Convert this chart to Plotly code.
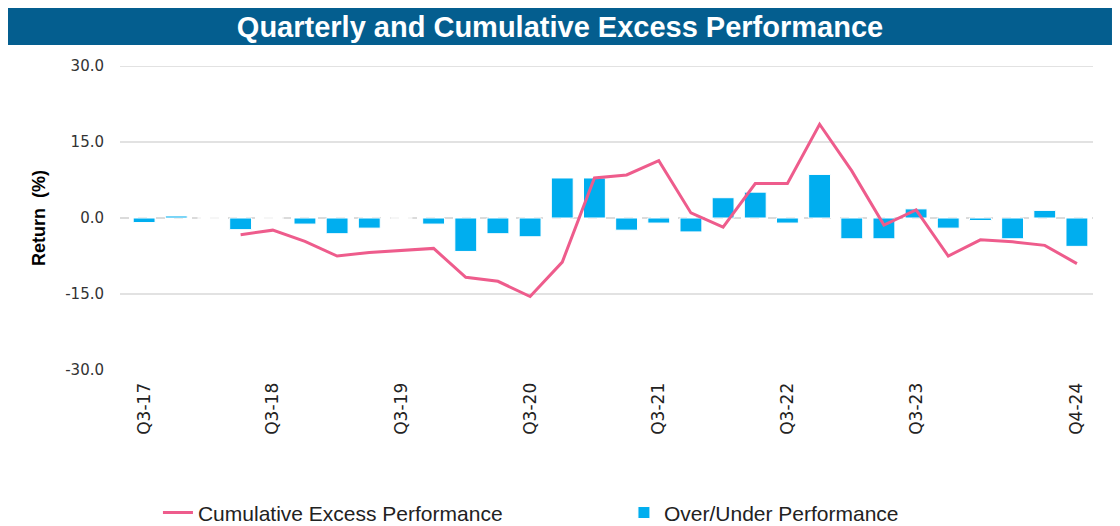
import plotly.graph_objects as go

quarters = [
    "Q3-17", "Q4-17", "Q1-18", "Q2-18", "Q3-18", "Q4-18", "Q1-19", "Q2-19",
    "Q3-19", "Q4-19", "Q1-20", "Q2-20", "Q3-20", "Q4-20", "Q1-21", "Q2-21",
    "Q3-21", "Q4-21", "Q1-22", "Q2-22", "Q3-22", "Q4-22", "Q1-23", "Q2-23",
    "Q3-23", "Q4-23", "Q1-24", "Q2-24", "Q3-24", "Q4-24",
]
over_under = [
    -0.9, 0.4, 0.0, -2.3, 0.0, -1.2, -3.1, -2.0, 0.0, -1.2,
    -6.6, -3.1, -3.7, 7.9, 7.9, -2.4, -1.0, -2.75, 4.0, 5.1,
    -1.0, 8.6, -4.1, -4.1, 1.8, -2.0, -0.5, -4.1, 1.5, -5.6,
]
cumulative = [
    None, None, None, -3.3, -2.4, -4.6, -7.5, -6.8, -6.4, -6.0,
    -11.7, -12.5, -15.5, -8.7, 7.9, 8.5, 11.3, 1.0, -1.8, 6.8,
    6.8, 18.5, 9.3, -1.4, 1.6, -7.5, -4.3, -4.7, -5.4, -9.0,
]
tick_labels = ["Q3-17", "Q3-18", "Q3-19", "Q3-20", "Q3-21", "Q3-22", "Q3-23", "Q4-24"]
y_ticks = [-30, -15, 0, 15, 30]
grid_lines = [-15, 15, 30]

fig = go.Figure()

fig.add_trace(go.Scatter(
    x=quarters, y=cumulative,
    mode="lines",
    line=dict(color="#EE5C8C", width=3),
    name="Cumulative Excess Performance",
))
fig.add_trace(go.Bar(
    x=quarters, y=over_under,
    marker=dict(color="#00AEEF", line=dict(color="white", width=1)),
    name="Over/Under Performance",
))

# gridlines and dashed zero line
shapes = []
for g in grid_lines:
    shapes.append(dict(type="line", xref="paper", yref="y", x0=0, x1=1, y0=g, y1=g,
                       line=dict(color="#D9D9D9", width=1.5), layer="below"))
shapes.append(dict(type="line", xref="paper", yref="y", x0=0, x1=1, y0=0, y1=0,
                   line=dict(color="#D0D0D0", width=1.5, dash="dash"), layer="below"))
# title banner across the full figure width
shapes.append(dict(type="rect", xref="paper", yref="paper", x0=-0.1151, x1=1.0195,
                   y0=1.069, y1=1.191, fillcolor="#045E8F", line=dict(width=0), layer="below"))

# page body adds an 8px margin around the figure
fig.update_layout(
    width=1104, height=518,
    margin=dict(l=112, r=19, t=58, b=156, autoexpand=False),
    plot_bgcolor="white", paper_bgcolor="white",
    shapes=shapes,
    bargap=0.32,
    title=dict(text="<b>Quarterly and Cumulative Excess Performance</b>",
               x=0.5, xref="container", xanchor="center",
               y=1 - 19 / 518, yref="container", yanchor="middle",
               font=dict(family="Liberation Sans, Arial", size=29, color="white")),
    xaxis=dict(
        type="category",
        range=[-0.75, 29.5],
        tickmode="array", tickvals=tick_labels, ticktext=tick_labels,
        tickangle=-90,
        showgrid=False, zeroline=False, showline=False,
        ticks="outside", ticklen=5, tickcolor="white",
        automargin=False,
        tickfont=dict(family="DejaVu Sans", size=17, color="#222"),
    ),
    yaxis=dict(
        range=[-30, 30],
        tickvals=y_ticks, ticktext=[f"{v:.1f}" for v in y_ticks],
        showgrid=False, zeroline=False, showline=False,
        ticks="outside", ticklen=12, tickcolor="white",
        automargin=False,
        tickfont=dict(family="DejaVu Sans", size=15, color="#333"),
        title=dict(text="<b>Return  (%)</b>", standoff=14,
                   font=dict(family="Liberation Sans, Arial", size=18, color="black")),
    ),
    legend=dict(
        orientation="h", x=0.039, xanchor="left", y=-0.47, yanchor="middle",
        entrywidth=421, entrywidthmode="pixels",
        font=dict(family="Liberation Sans, Arial", size=21, color="#222"),
        traceorder="normal",
    ),
)

fig.write_html("out.html")
